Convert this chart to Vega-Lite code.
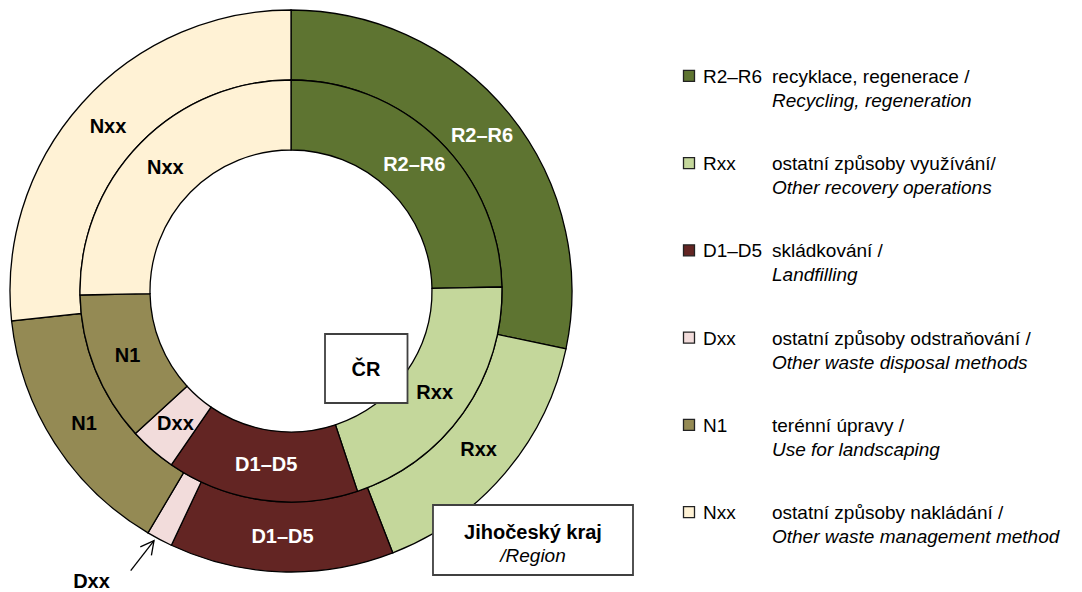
{
  "$schema": "https://vega.github.io/schema/vega-lite/v6.json",
  "padding": 0,
  "background": "white",
  "bounds": "flush",
  "spacing": 101,
  "config": {"view": {"stroke": null}, "font": "Liberation Sans"},
  "datasets": {
    "shares": [
      {"ring": "Jihočeský kraj", "code": "R2–R6", "order": 1, "value": 28.3},
      {"ring": "Jihočeský kraj", "code": "Rxx", "order": 2, "value": 15.8},
      {"ring": "Jihočeský kraj", "code": "D1–D5", "order": 3, "value": 12.9},
      {"ring": "Jihočeský kraj", "code": "Dxx", "order": 4, "value": 1.5},
      {"ring": "Jihočeský kraj", "code": "N1", "order": 5, "value": 14.8},
      {"ring": "Jihočeský kraj", "code": "Nxx", "order": 6, "value": 26.7},
      {"ring": "ČR", "code": "R2–R6", "order": 1, "value": 24.7},
      {"ring": "ČR", "code": "Rxx", "order": 2, "value": 20.2},
      {"ring": "ČR", "code": "D1–D5", "order": 3, "value": 14.7},
      {"ring": "ČR", "code": "Dxx", "order": 4, "value": 3.6},
      {"ring": "ČR", "code": "N1", "order": 5, "value": 11.5},
      {"ring": "ČR", "code": "Nxx", "order": 6, "value": 25.3}
    ],
    "legendItems": [
      {"code": "R2–R6", "cz": "recyklace, regenerace /", "en": "Recycling, regeneration"},
      {"code": "Rxx", "cz": "ostatní způsoby využívání/", "en": "Other recovery operations"},
      {"code": "D1–D5", "cz": "skládkování /", "en": "Landfilling"},
      {"code": "Dxx", "cz": "ostatní způsoby odstraňování /", "en": "Other waste disposal methods"},
      {"code": "N1", "cz": "terénní úpravy /", "en": "Use for landscaping"},
      {"code": "Nxx", "cz": "ostatní způsoby nakládání /", "en": "Other waste management method"}
    ]
  },
  "hconcat": [
    {
      "width": 582,
      "height": 582,
      "layer": [
        {
          "data": {"name": "shares"},
          "transform": [{"filter": "datum.ring === 'Jihočeský kraj'"}],
          "mark": {"type": "arc", "outerRadius": 281, "innerRadius": 211, "stroke": "black", "strokeWidth": 1.3},
          "encoding": {
            "theta": {"field": "value", "type": "quantitative", "stack": true, "scale": {"domain": [0, 100]}},
            "order": {"field": "order", "type": "quantitative"},
            "color": {"field": "code", "type": "nominal", "legend": null,
              "scale": {"domain": ["R2–R6", "Rxx", "D1–D5", "Dxx", "N1", "Nxx"],
                        "range": ["#5E7431", "#C4D79B", "#632523", "#F2DCDB", "#948A54", "#FFF2D5"]}}
          }
        },
        {
          "data": {"name": "shares"},
          "transform": [{"filter": "datum.ring === 'ČR'"}],
          "mark": {"type": "arc", "outerRadius": 211, "innerRadius": 141, "stroke": "black", "strokeWidth": 1.3},
          "encoding": {
            "theta": {"field": "value", "type": "quantitative", "stack": true, "scale": {"domain": [0, 100]}},
            "order": {"field": "order", "type": "quantitative"},
            "color": {"field": "code", "type": "nominal", "legend": null,
              "scale": {"domain": ["R2–R6", "Rxx", "D1–D5", "Dxx", "N1", "Nxx"],
                        "range": ["#5E7431", "#C4D79B", "#632523", "#F2DCDB", "#948A54", "#FFF2D5"]}}
          }
        },
        {
          "data": {"name": "shares"},
          "transform": [{"filter": "datum.ring === 'Jihočeský kraj'"}],
          "mark": {"type": "text", "radius": 246, "fontSize": 20, "fontWeight": "bold", "align": "center", "baseline": "middle"},
          "encoding": {
            "theta": {"field": "value", "type": "quantitative", "stack": true, "scale": {"domain": [0, 100]}},
            "order": {"field": "order", "type": "quantitative"},
            "text": {"field": "code", "condition": {"test": "datum.code === 'Dxx'", "value": ""}},
            "color": {"condition": {"test": "datum.code === 'R2–R6' || datum.code === 'D1–D5'", "value": "white"}, "value": "black"}
          }
        },
        {
          "data": {"name": "shares"},
          "transform": [{"filter": "datum.ring === 'ČR'"}],
          "mark": {"type": "text", "radius": 176, "fontSize": 20, "fontWeight": "bold", "align": "center", "baseline": "middle"},
          "encoding": {
            "theta": {"field": "value", "type": "quantitative", "stack": true, "scale": {"domain": [0, 100]}},
            "order": {"field": "order", "type": "quantitative"},
            "text": {"field": "code"},
            "color": {"condition": {"test": "datum.code === 'R2–R6' || datum.code === 'D1–D5'", "value": "white"}, "value": "black"}
          }
        },
        {
          "data": {"values": [{}]},
          "mark": {"type": "rect", "fill": "white", "stroke": "#404040", "strokeWidth": 1.8},
          "encoding": {
            "x": {"datum": 0.121, "type": "quantitative", "scale": {"domain": [-1.0356, 1.0356], "nice": false, "zero": false}, "axis": null},
            "x2": {"datum": 0.4146},
            "y": {"datum": -0.153, "type": "quantitative", "scale": {"domain": [-1.0356, 1.0356], "nice": false, "zero": false}, "axis": null},
            "y2": {"datum": -0.3986}
          }
        },
        {
          "data": {"values": [{}]},
          "mark": {"type": "text", "fontSize": 20, "fontWeight": "bold", "align": "center", "baseline": "middle"},
          "encoding": {
            "x": {"datum": 0.267, "type": "quantitative", "scale": {"domain": [-1.0356, 1.0356], "nice": false, "zero": false}, "axis": null},
            "y": {"datum": -0.28, "type": "quantitative", "scale": {"domain": [-1.0356, 1.0356], "nice": false, "zero": false}, "axis": null},
            "text": {"value": "ČR"}
          }
        },
        {
          "data": {"values": [{}]},
          "mark": {"type": "rect", "fill": "white", "stroke": "#404040", "strokeWidth": 1.8},
          "encoding": {
            "x": {"datum": 0.5053, "type": "quantitative", "scale": {"domain": [-1.0356, 1.0356], "nice": false, "zero": false}, "axis": null},
            "x2": {"datum": 1.2171},
            "y": {"datum": -0.7616, "type": "quantitative", "scale": {"domain": [-1.0356, 1.0356], "nice": false, "zero": false}, "axis": null},
            "y2": {"datum": -1.0107}
          }
        },
        {
          "data": {"values": [{}]},
          "mark": {"type": "text", "fontSize": 20, "fontWeight": "bold", "align": "center", "baseline": "alphabetic"},
          "encoding": {
            "x": {"datum": 0.8612, "type": "quantitative", "scale": {"domain": [-1.0356, 1.0356], "nice": false, "zero": false}, "axis": null},
            "y": {"datum": -0.8826, "type": "quantitative", "scale": {"domain": [-1.0356, 1.0356], "nice": false, "zero": false}, "axis": null},
            "text": {"value": "Jihočeský kraj"}
          }
        },
        {
          "data": {"values": [{}]},
          "mark": {"type": "text", "fontSize": 19, "fontStyle": "italic", "align": "center", "baseline": "alphabetic"},
          "encoding": {
            "x": {"datum": 0.8612, "type": "quantitative", "scale": {"domain": [-1.0356, 1.0356], "nice": false, "zero": false}, "axis": null},
            "y": {"datum": -0.9644, "type": "quantitative", "scale": {"domain": [-1.0356, 1.0356], "nice": false, "zero": false}, "axis": null},
            "text": {"value": "/Region"}
          }
        },
        {
          "data": {"values": [{}]},
          "mark": {"type": "text", "fontSize": 20, "fontWeight": "bold", "align": "center", "baseline": "alphabetic"},
          "encoding": {
            "x": {"datum": -0.71, "type": "quantitative", "scale": {"domain": [-1.0356, 1.0356], "nice": false, "zero": false}, "axis": null},
            "y": {"datum": -1.0555, "type": "quantitative", "scale": {"domain": [-1.0356, 1.0356], "nice": false, "zero": false}, "axis": null},
            "text": {"value": "Dxx"}
          }
        },
        {
          "data": {"values": [{}]},
          "mark": {"type": "rule", "stroke": "black", "strokeWidth": 1.3},
          "encoding": {
            "x": {"datum": -0.5705, "type": "quantitative", "scale": {"domain": [-1.0356, 1.0356], "nice": false, "zero": false}, "axis": null},
            "x2": {"datum": -0.4875},
            "y": {"datum": -0.9954, "type": "quantitative", "scale": {"domain": [-1.0356, 1.0356], "nice": false, "zero": false}, "axis": null},
            "y2": {"datum": -0.8886}
          }
        },
        {
          "data": {"values": [{}]},
          "mark": {"type": "point", "shape": "M-0.47,0.883L0,0L0.47,0.883", "filled": false, "stroke": "black", "strokeWidth": 1.3, "size": 900, "angle": 38, "opacity": 1},
          "encoding": {
            "x": {"datum": -0.4875, "type": "quantitative", "scale": {"domain": [-1.0356, 1.0356], "nice": false, "zero": false}, "axis": null},
            "y": {"datum": -0.8886, "type": "quantitative", "scale": {"domain": [-1.0356, 1.0356], "nice": false, "zero": false}, "axis": null}
          }
        }
      ]
    },
    {
      "width": 399,
      "height": 588,
      "data": {"name": "legendItems"},
      "encoding": {
        "y": {"field": "code", "type": "nominal", "sort": ["R2–R6", "Rxx", "D1–D5", "Dxx", "N1", "Nxx"],
              "scale": {"type": "point", "padding": 0.87}, "axis": null}
      },
      "layer": [
        {
          "mark": {"type": "point", "shape": "square", "size": 121, "filled": true, "stroke": "#222222", "strokeWidth": 1.3, "opacity": 1},
          "encoding": {
            "x": {"value": 6},
            "color": {"field": "code", "type": "nominal", "legend": null,
              "scale": {"domain": ["R2–R6", "Rxx", "D1–D5", "Dxx", "N1", "Nxx"],
                        "range": ["#5E7431", "#C4D79B", "#632523", "#F2DCDB", "#948A54", "#FFF2D5"]}}
          }
        },
        {
          "mark": {"type": "text", "align": "left", "baseline": "alphabetic", "dy": 7, "fontSize": 19, "color": "black"},
          "encoding": {"x": {"value": 20}, "text": {"field": "code"}}
        },
        {
          "mark": {"type": "text", "align": "left", "baseline": "alphabetic", "dy": 7, "fontSize": 19, "color": "black"},
          "encoding": {"x": {"value": 89}, "text": {"field": "cz"}}
        },
        {
          "mark": {"type": "text", "align": "left", "baseline": "alphabetic", "dy": 31, "fontSize": 19, "fontStyle": "italic", "color": "black"},
          "encoding": {"x": {"value": 89}, "text": {"field": "en"}}
        }
      ]
    }
  ]
}
